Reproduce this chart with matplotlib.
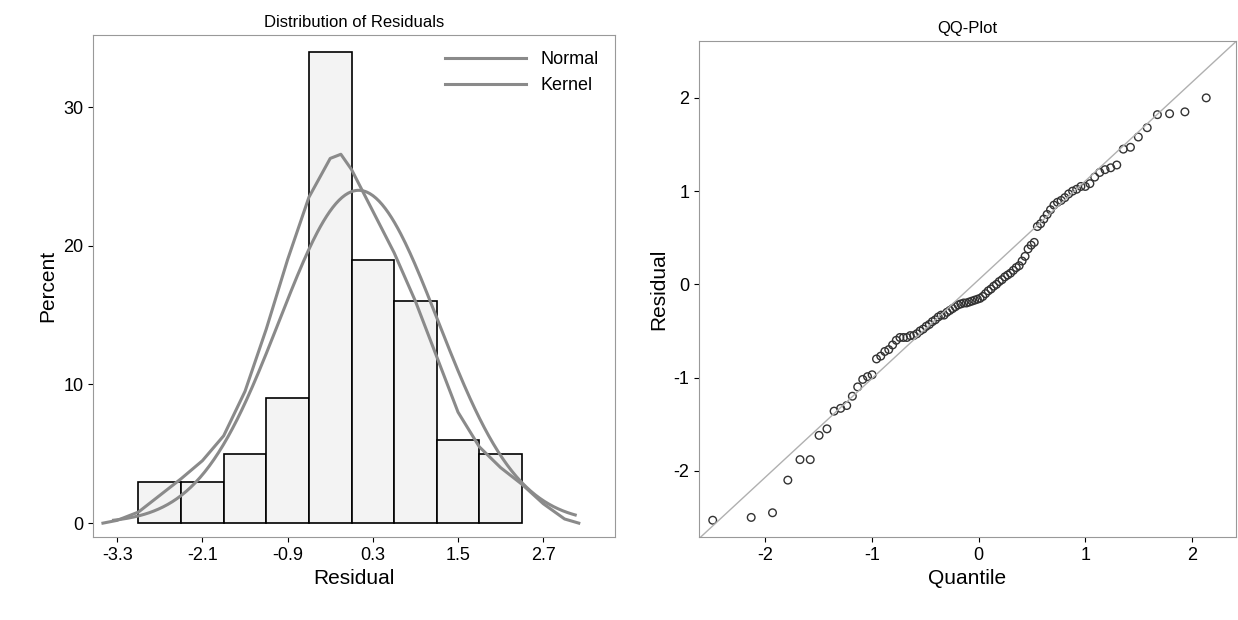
import matplotlib
matplotlib.use("Agg")
import matplotlib.pyplot as plt
import numpy as np
from statistics import NormalDist

plt.rcParams['font.family'] = ['Liberation Sans', 'DejaVu Sans']
plt.rcParams['axes.unicode_minus'] = False

bin_edges = [-3.0, -2.4, -1.8, -1.2, -0.6, 0.0, 0.6, 1.2, 1.8, 2.4]
percents = [3, 3, 5, 9, 34, 19, 16, 6, 5]
normal_mean, normal_sd, normal_peak = 0.1, 1.12, 24.0
kernel_x = [-3.5, -3.3, -3.0, -2.7, -2.4, -2.1, -1.8, -1.5, -1.2, -0.9, -0.6, -0.3, -0.15, 0.0, 0.3, 0.6, 0.9, 1.2, 1.5, 1.8, 2.1, 2.4, 2.7, 3.0, 3.2]
kernel_y = [0.0, 0.2, 0.8, 2.0, 3.2, 4.5, 6.3, 9.5, 14.0, 19.0, 23.5, 26.3, 26.6, 25.5, 22.5, 19.5, 16.0, 12.0, 8.0, 5.5, 4.0, 2.8, 1.4, 0.3, 0.0]
hist_ticks = [-3.3, -2.1, -0.9, 0.3, 1.5, 2.7]

residuals = [-2.53,-2.5,-2.45,-2.1,-1.88,-1.88,-1.62,-1.55,-1.36,-1.33,-1.3,-1.2,-1.1,-1.02,-0.99,-0.97,
 -0.8,-0.77,-0.72,-0.7,-0.65,-0.6,-0.57,-0.57,-0.57,-0.55,-0.55,-0.53,-0.5,-0.48,-0.45,-0.43,-0.4,-0.38,
 -0.35,-0.33,-0.33,-0.3,-0.28,-0.26,-0.24,-0.22,-0.21,-0.2,-0.2,-0.19,-0.18,-0.17,-0.16,-0.15,-0.13,-0.1,
 -0.07,-0.05,-0.02,0.0,0.03,0.05,0.08,0.1,0.12,0.15,0.18,0.2,0.25,0.3,0.38,0.42,0.45,0.62,0.65,0.7,0.75,
 0.8,0.85,0.88,0.9,0.93,0.97,1.0,1.02,1.05,1.05,1.08,1.15,1.2,1.23,1.25,1.28,1.45,1.47,1.58,1.68,1.82,
 1.83,1.85,2.0,2.15]
ref_slope, ref_intercept = 1.06, 0.05

fig = plt.figure(figsize=(12.38, 6.2), dpi=100)
W, H = 1238, 620
ax1 = fig.add_axes([93/W, 83/H, 522/W, 502/H])
ax2 = fig.add_axes([699/W, 83/H, 537/W, 496/H])

widths = np.diff(bin_edges)
ax1.bar(bin_edges[:-1], percents, width=widths, align='edge', color='#f3f3f3', edgecolor='black', linewidth=1.2)
xs = np.linspace(-3.35, 3.15, 300)
nd = NormalDist(normal_mean, normal_sd)
pk = nd.pdf(normal_mean)
ny = [nd.pdf(v) / pk * normal_peak for v in xs]
ax1.plot(xs, ny, color='#8a8a8a', lw=2.2, label='Normal')
ax1.plot(kernel_x, kernel_y, color='#8a8a8a', lw=2.2, label='Kernel')
ax1.set_xlim(-3.64, 3.71)
ax1.set_ylim(-1.0, 35.2)
ax1.set_xticks(hist_ticks)
ax1.set_xticklabels([f"{t:.1f}" for t in hist_ticks])
ax1.set_yticks([0, 10, 20, 30])
ax1.set_xlabel('Residual', fontsize=15)
ax1.set_ylabel('Percent', fontsize=15)
ax1.set_title('Distribution of Residuals', fontsize=12)
ax1.legend(loc='upper right', frameon=False, fontsize=13, handlelength=4.5)
ax1.tick_params(labelsize=13)

n = len(residuals)
q = [NormalDist().inv_cdf((i + 1 - 0.375) / (n + 0.25)) for i in range(n)]
lx = np.array([-3.0, 2.6])
ax2.plot(lx, ref_slope * lx + ref_intercept, color='#b0b0b0', lw=1)
ax2.scatter(q, sorted(residuals), s=30, facecolors='none', edgecolors='#333333', linewidths=1)
ax2.set_xlim(-2.62, 2.41)
ax2.set_ylim(-2.71, 2.61)
ax2.set_xticks([-2, -1, 0, 1, 2])
ax2.set_yticks([-2, -1, 0, 1, 2])
ax2.set_xlabel('Quantile', fontsize=15)
ax2.set_ylabel('Residual', fontsize=15)
ax2.set_title('QQ-Plot', fontsize=12)
ax2.tick_params(labelsize=13)
for ax in (ax1, ax2):
    for s in ax.spines.values():
        s.set_color('#999999')

fig.savefig('out.png', dpi=100)
